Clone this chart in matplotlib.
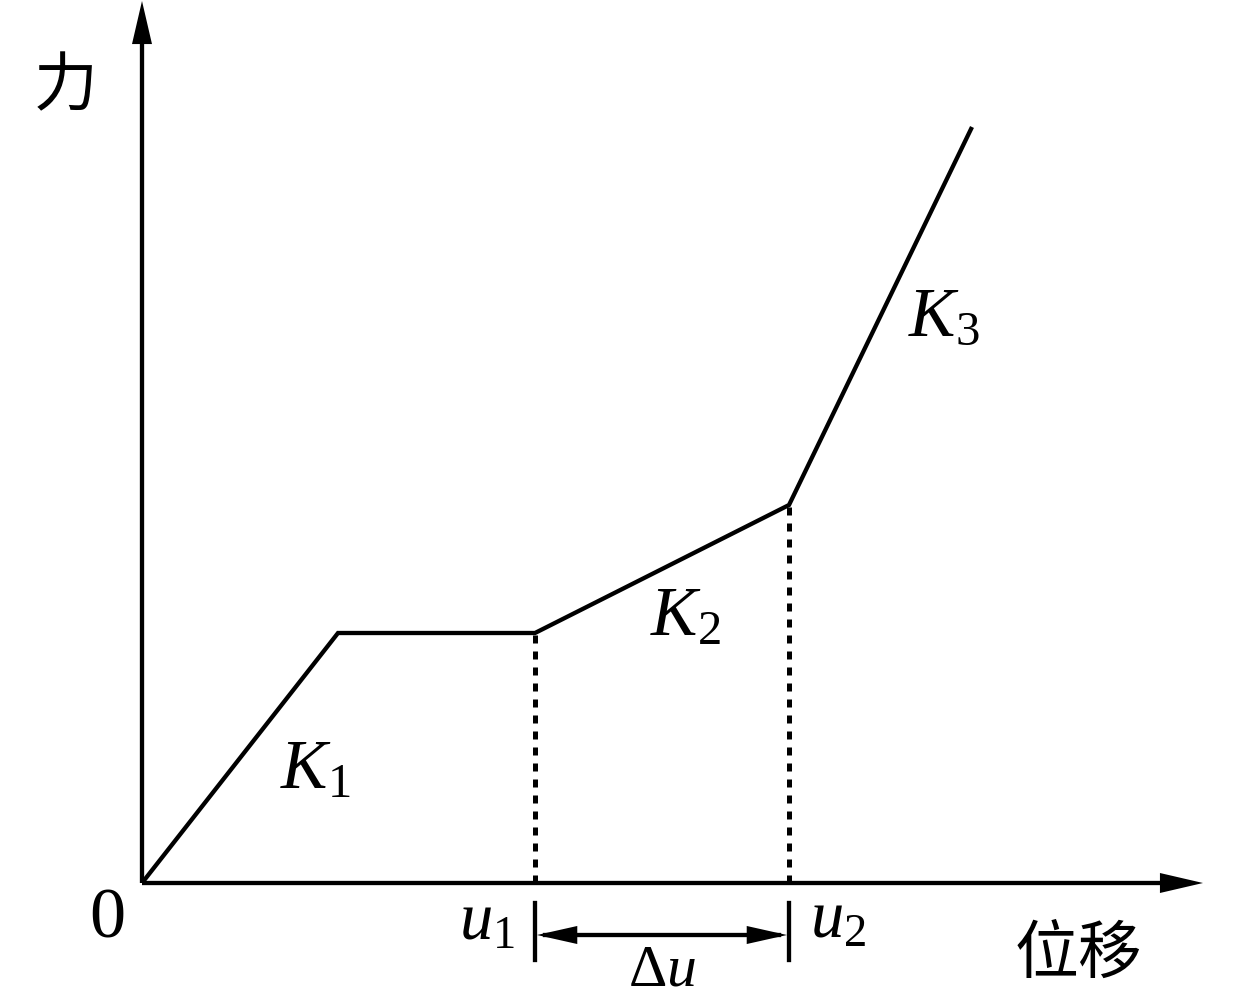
import matplotlib.pyplot as plt

plt.rcParams['font.family'] = ['Liberation Serif', 'Noto Sans CJK SC']
plt.rcParams['mathtext.fontset'] = 'custom'
plt.rcParams['mathtext.rm'] = 'Liberation Serif'
plt.rcParams['mathtext.it'] = 'Liberation Serif:italic'

# force-displacement curve (trilinear with plateau)
disp = [0, 19.6, 39.3, 64.7, 83.0]
force = [0, 25.0, 25.0, 37.8, 75.6]
u1, u2 = disp[2], disp[3]

x_end = 106.1
y_end = 88.2

fig = plt.figure(figsize=(12.33, 10.01), dpi=100)
ax = fig.add_axes([0, 0, 1, 1])
ax.set_xlim(-14.2, 109.1)
ax.set_ylim(-11.8, 88.3)
ax.axis('off')

lw = 3.1
# arrow heads only (no stroke), shafts drawn with plot
head = dict(arrowstyle='-|>,head_length=3.1,head_width=0.72', mutation_scale=10,
            lw=0, color='black', shrinkA=0, shrinkB=0)

# axes with arrows
ax.plot([0, 0], [0, y_end - 2], color='black', lw=lw, solid_capstyle='butt')
ax.plot([0, x_end - 2], [0, 0], color='black', lw=lw, solid_capstyle='butt')
ax.annotate('', xy=(0, y_end), xytext=(0, y_end - 10), arrowprops=head)
ax.annotate('', xy=(x_end, 0), xytext=(x_end - 10, 0), arrowprops=head)

# curve
ax.plot(disp, force, color='black', lw=lw, solid_joinstyle='miter', solid_capstyle='butt')

# dashed guides
ax.plot([u1, u1], [0, force[2]], color='black', lw=3.6, linestyle=(0, (1.6, 1.6)))
ax.plot([u2, u2], [0, force[3]], color='black', lw=3.6, linestyle=(0, (1.6, 1.6)))

# delta-u dimension
ax.plot([u1, u1], [-2.0, -7.7], color='black', lw=lw)
ax.plot([u2, u2], [-2.0, -7.7], color='black', lw=lw)
ax.plot([u1 + 1, u2 - 1], [-5.2, -5.2], color='black', lw=lw)
dim = dict(head)
dim['arrowstyle'] = '<|-|>,head_length=2.9,head_width=0.65'
ax.annotate('', xy=(u2 - 0.2, -5.2), xytext=(u1 + 0.2, -5.2), arrowprops=dim)

# labels
ax.text(-7.6, 79.6, '力', fontsize=46, ha='center', va='center', family='Noto Sans CJK SC')
ax.text(93.6, -7.2, '位移', fontsize=46, ha='center', va='center', family='Noto Sans CJK SC')
ax.text(-3.5, -5.4, '0', fontsize=52, ha='center', va='baseline')
ax.text(37.3, -5.7, '$u_1$', fontsize=48, ha='right', va='baseline')
ax.text(66.8, -5.5, '$u_2$', fontsize=48, ha='left', va='baseline')
ax.text((u1 + u2) / 2, -10.3, r'$\Delta u$', fontsize=43, ha='center', va='baseline')
ax.text(13.8, 9.5, '$K_1$', fontsize=50, ha='left', va='baseline')
ax.text(50.8, 24.8, '$K_2$', fontsize=50, ha='left', va='baseline')
ax.text(76.6, 54.8, '$K_3$', fontsize=50, ha='left', va='baseline')

fig.savefig('out.png', dpi=100, facecolor='white')
